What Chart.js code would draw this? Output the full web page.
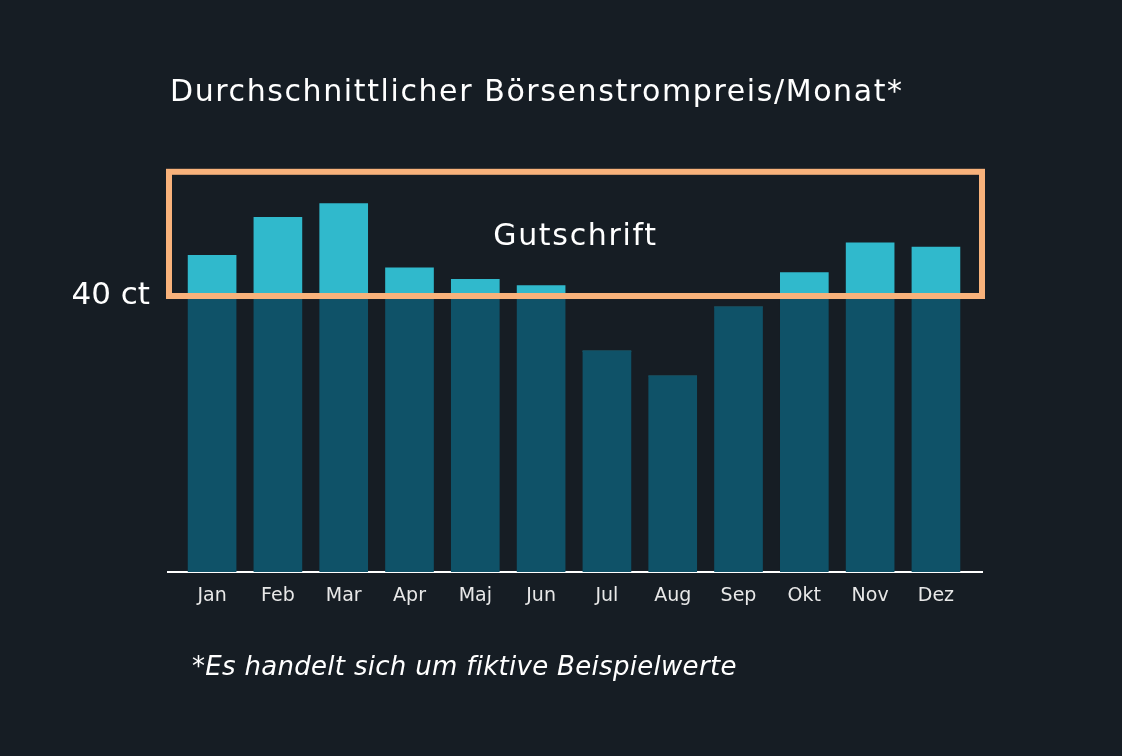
<!DOCTYPE html>
<html lang="de">
<head>
<meta charset="utf-8">
<title>Börsenstrompreis</title>
<script src="https://cdn.jsdelivr.net/npm/chart.js@4"></script>
<style>
  html, body { margin: 0; padding: 0; background: #161d24; }
  #wrap { width: 1122px; height: 756px; position: relative; }
</style>
</head>
<body>
<div id="wrap"><canvas id="priceChart"></canvas></div>
<script>
// Daten (ct/kWh, fiktive Beispielwerte)
const months = ['Jan', 'Feb', 'Mar', 'Apr', 'Maj', 'Jun', 'Jul', 'Aug', 'Sep', 'Okt', 'Nov', 'Dez'];
const prices = [45.9, 51.4, 53.4, 44.1, 42.4, 41.5, 32.0, 28.4, 38.4, 43.4, 47.7, 47.1];
const threshold = 40;     // Grenze fuer Gutschrift
const boxTop = 58;        // Oberkante Gutschrift-Rahmen
const yTicks = [40];

const titleText = 'Durchschnittlicher Börsenstrompreis/Monat*';
const boxText = 'Gutschrift';
const noteText = '*Es handelt sich um fiktive Beispielwerte';

const FONT = "'DejaVu Sans', 'Open Sans', sans-serif";

document.addEventListener('DOMContentLoaded', function() {
    const belowPart = prices.map((v, i) => ({ x: i, y: Math.min(v, threshold) }));
    const abovePart = prices.map((v, i) => ({ x: i, y: Math.max(v - threshold, 0) }));

    // Titel, Rahmen "Gutschrift" und Fussnote
    const extrasPlugin = {
        id: 'extras',
        afterDatasetsDraw(chart) {
            const { ctx, chartArea, scales } = chart;
            const top = scales.y.getPixelForValue(boxTop);
            const bottom = scales.y.getPixelForValue(threshold);
            const left = chartArea.left + 1;
            const right = chartArea.right;
            ctx.save();
            ctx.strokeStyle = '#f8b27b';
            ctx.lineWidth = 6;
            ctx.strokeRect(left, top, right - left, bottom - top);

            ctx.fillStyle = '#ffffff';
            ctx.textBaseline = 'middle';

            ctx.font = '30px ' + FONT;
            ctx.letterSpacing = '1.6px';
            ctx.textAlign = 'left';
            ctx.fillText(titleText, chartArea.left + 2, chartArea.top - 65);

            ctx.letterSpacing = '1.7px';
            ctx.textAlign = 'center';
            ctx.fillText(boxText, (left + right) / 2, (top + bottom) / 2 + 3);

            ctx.font = 'italic 26px ' + FONT;
            ctx.letterSpacing = '0.3px';
            ctx.textAlign = 'left';
            ctx.fillText(noteText, chartArea.left + 24, chartArea.bottom + 96);
            ctx.restore();
        }
    };

    new Chart(document.getElementById('priceChart'), {
        type: 'bar',
        data: {
            datasets: [
                { label: 'Preis bis 40 ct', data: belowPart, backgroundColor: '#0f5268', borderWidth: 0 },
                { label: 'Preis ueber 40 ct', data: abovePart, backgroundColor: '#30b9cc', borderWidth: 0 }
            ]
        },
        options: {
            responsive: true,
            maintainAspectRatio: false,
            animation: false,
            events: [],
            barThickness: 48,
            layout: { padding: { left: 0, right: 140, top: 158, bottom: 0 } },
            plugins: {
                legend: { display: false },
                tooltip: { enabled: false },
                title: { display: false }
            },
            scales: {
                x: {
                    type: 'linear',
                    stacked: true,
                    offset: false,
                    min: -0.67,
                    max: 11.7,
                    afterBuildTicks: function(scale) {
                        scale.ticks = months.map((m, i) => ({ value: i }));
                    },
                    afterFit: function(scale) { scale.height = 184; },
                    grid: { display: false, drawTicks: false },
                    border: { display: true, color: '#ffffff', width: 2 },
                    ticks: {
                        color: '#e8e8e8',
                        font: { family: FONT, size: 19 },
                        padding: 13,
                        maxRotation: 0,
                        autoSkip: false,
                        callback: function(value) { return months[value]; }
                    }
                },
                y: {
                    stacked: true,
                    min: 0,
                    max: 60,
                    afterBuildTicks: function(scale) {
                        scale.ticks = yTicks.map(v => ({ value: v }));
                    },
                    afterFit: function(scale) { scale.width = 168; },
                    grid: { display: false, drawTicks: false },
                    border: { display: false },
                    ticks: {
                        color: '#ffffff',
                        font: { family: FONT, size: 31 },
                        padding: 18,
                        callback: function(value) { return value + ' ct'; }
                    }
                }
            }
        },
        plugins: [extrasPlugin]
    });
});
</script>
</body>
</html>
